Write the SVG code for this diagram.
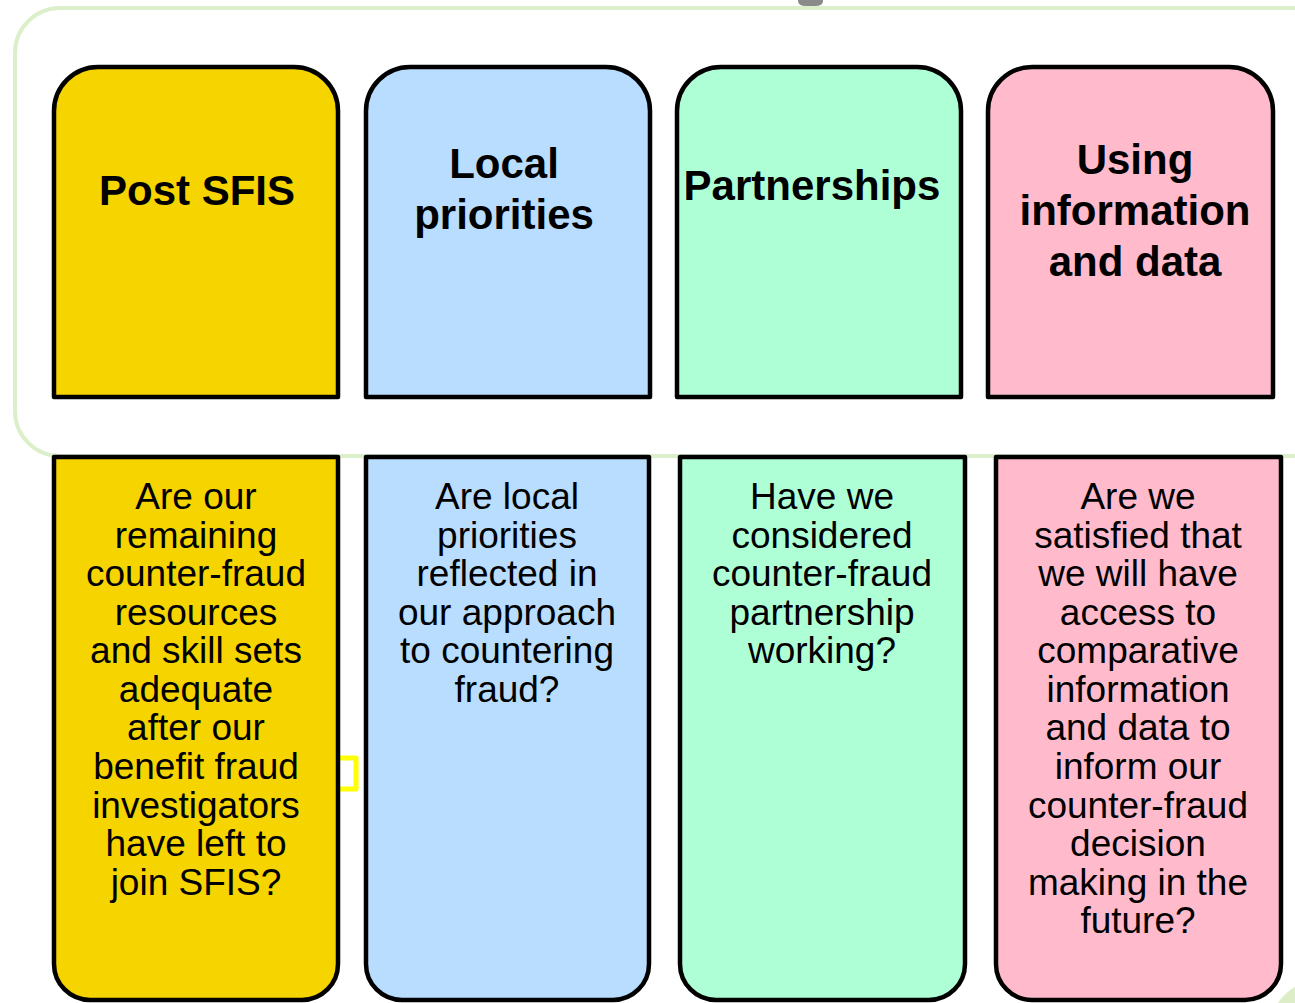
<svg xmlns="http://www.w3.org/2000/svg" width="1295" height="1003" viewBox="0 0 1295 1003">
<style>
.box{stroke:#000;stroke-width:4.5;stroke-linejoin:round}
.title{font-family:"Liberation Sans",Arial,sans-serif;font-weight:bold;font-size:42px;fill:#000;text-anchor:middle}
.body{font-family:"Liberation Sans",Arial,sans-serif;font-size:37px;fill:#000;text-anchor:middle}
.y{fill:#F5D400}.b{fill:#B8DDFE}.g{fill:#AFFFD6}.p{fill:#FFBBCC}
</style>
<rect width="1295" height="1003" fill="#fff"/>
<g id="backdrop">
<ellipse cx="1320" cy="1030" rx="50" ry="50" fill="#dcedc8"/>
<path d="M798,0 H823 V1 Q823,6 815,6 H806 Q798,6 798,1 Z" fill="#8a8a8a"/>
<rect x="15" y="8" width="1320" height="448" rx="45" ry="45" fill="#fff" stroke="#dcefcb" stroke-width="4"/>
<path d="M330,758 H356 V789 H330" fill="none" stroke="#FFFF00" stroke-width="5" stroke-linejoin="round"/>
</g>
<g id="connectors"></g>
<g id="node-post-sfis">
<path class="box y" d="M54,397 V111 A44,44 0 0 1 98,67 H294 A44,44 0 0 1 338,111 V397 Z"/>
<text class="title" x="197" y="205">Post SFIS</text>
</g>
<g id="node-local-priorities">
<path class="box b" d="M366,397 V111 A44,44 0 0 1 410,67 H606 A44,44 0 0 1 650,111 V397 Z"/>
<text class="title" x="504" y="178">Local</text>
<text class="title" x="504" y="229">priorities</text>
</g>
<g id="node-partnerships">
<path class="box g" d="M677,397 V111 A44,44 0 0 1 721,67 H917 A44,44 0 0 1 961,111 V397 Z"/>
<text class="title" x="812" y="200">Partnerships</text>
</g>
<g id="node-using-information">
<path class="box p" d="M988,397 V111 A44,44 0 0 1 1032,67 H1229 A44,44 0 0 1 1273,111 V397 Z"/>
<text class="title" x="1135" y="174">Using</text>
<text class="title" x="1135" y="225">information</text>
<text class="title" x="1135" y="276">and data</text>
</g>
<g id="node-q-post-sfis">
<path class="box y" d="M54,457 H338 V964 A36,36 0 0 1 302,1000 H90 A36,36 0 0 1 54,964 Z"/>
<text class="body" x="196" y="509">Are our</text>
<text class="body" x="196" y="548">remaining</text>
<text class="body" x="196" y="586">counter-fraud</text>
<text class="body" x="196" y="625">resources</text>
<text class="body" x="196" y="663">and skill sets</text>
<text class="body" x="196" y="702">adequate</text>
<text class="body" x="196" y="740">after our</text>
<text class="body" x="196" y="779">benefit fraud</text>
<text class="body" x="196" y="818">investigators</text>
<text class="body" x="196" y="856">have left to</text>
<text class="body" x="196" y="895">join SFIS?</text>
</g>
<g id="node-q-local-priorities">
<path class="box b" d="M366,457 H649 V964 A36,36 0 0 1 613,1000 H402 A36,36 0 0 1 366,964 Z"/>
<text class="body" x="507" y="509">Are local</text>
<text class="body" x="507" y="548">priorities</text>
<text class="body" x="507" y="586">reflected in</text>
<text class="body" x="507" y="625">our approach</text>
<text class="body" x="507" y="663">to countering</text>
<text class="body" x="507" y="702">fraud?</text>
</g>
<g id="node-q-partnerships">
<path class="box g" d="M680,457 H965 V964 A36,36 0 0 1 929,1000 H716 A36,36 0 0 1 680,964 Z"/>
<text class="body" x="822" y="509">Have we</text>
<text class="body" x="822" y="548">considered</text>
<text class="body" x="822" y="586">counter-fraud</text>
<text class="body" x="822" y="625">partnership</text>
<text class="body" x="822" y="663">working?</text>
</g>
<g id="node-q-using-information">
<path class="box p" d="M996,457 H1281 V964 A36,36 0 0 1 1245,1000 H1032 A36,36 0 0 1 996,964 Z"/>
<text class="body" x="1138" y="509">Are we</text>
<text class="body" x="1138" y="548">satisfied that</text>
<text class="body" x="1138" y="586">we will have</text>
<text class="body" x="1138" y="625">access to</text>
<text class="body" x="1138" y="663">comparative</text>
<text class="body" x="1138" y="702">information</text>
<text class="body" x="1138" y="740">and data to</text>
<text class="body" x="1138" y="779">inform our</text>
<text class="body" x="1138" y="818">counter-fraud</text>
<text class="body" x="1138" y="856">decision</text>
<text class="body" x="1138" y="895">making in the</text>
<text class="body" x="1138" y="933">future?</text>
</g>
</svg>
